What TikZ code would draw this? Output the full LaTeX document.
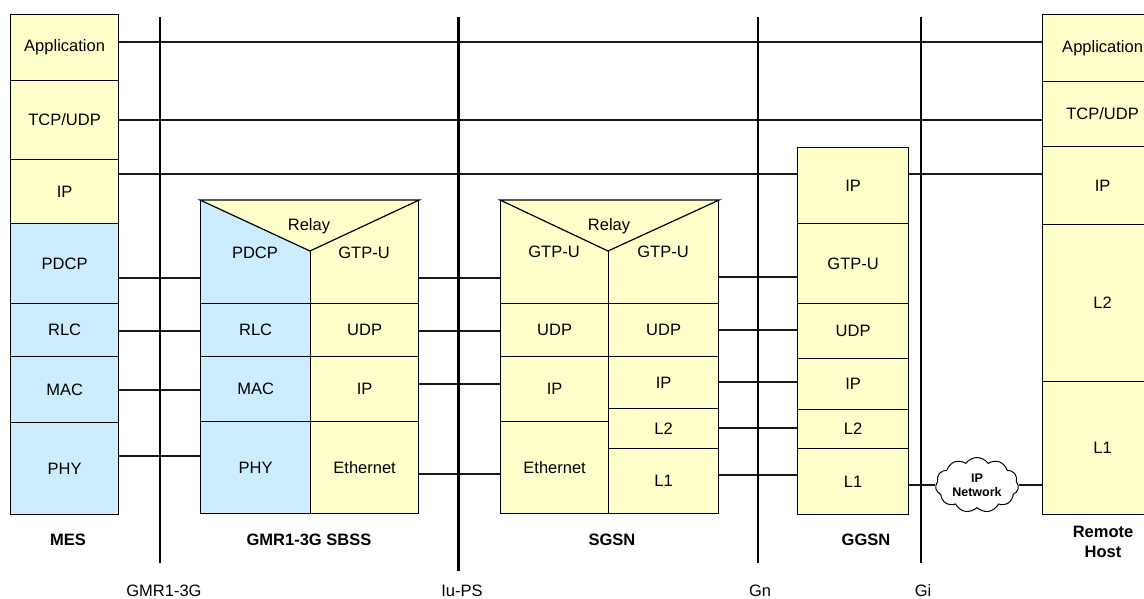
\documentclass[tikz,border=0pt]{standalone}
\usepackage{fontspec}
\setmainfont{Liberation Sans}
\usetikzlibrary{shapes.symbols}
\definecolor{ly}{RGB}{255,255,204}
\definecolor{lb}{RGB}{204,236,255}
\newcommand\lcell[7]{\node[cellbox, fill=#6, minimum width={#4-#2}, minimum height={#5-#3}] (#1) at (#2,#3) {#7};}
\begin{document}
\begin{tikzpicture}[x=1pt,y=-1pt,
  cellbox/.style={draw=black, line width=1.2pt, inner sep=0pt, anchor=north west, font=\fontsize{16.5}{19}\selectfont},
  cellfont/.style={inner sep=0pt, font=\fontsize{16.5}{19}\selectfont},
  link/.style={line width=1.4pt, draw=black!90},
  iface/.style={line width=1.5pt},
  ifacethick/.style={line width=3pt},
  lbl/.style={font=\bfseries\fontsize{16.5}{20}\selectfont, align=center},
  ifl/.style={font=\fontsize{16.5}{19}\selectfont}]
\useasboundingbox (0,0) rectangle (1144,599);
\fill[white] (0,0) rectangle (1144,599);

% ---------- MES ----------
\lcell{mesApp}{10}{14}{118}{80}{ly}{Application}
\lcell{mesTcp}{10}{80}{118}{159}{ly}{TCP/UDP}
\lcell{mesIp}{10}{159}{118}{223}{ly}{IP}
\lcell{mesPdcp}{10}{223}{118}{303}{lb}{PDCP}
\lcell{mesRlc}{10}{303}{118}{356}{lb}{RLC}
\lcell{mesMac}{10}{356}{118}{422}{lb}{MAC}
\lcell{mesPhy}{10}{422}{118}{514}{lb}{PHY}

% ---------- GMR1-3G SBSS ----------
\lcell{sbssPdcp}{200}{200}{310}{303}{lb}{}
\lcell{sbssGtp}{310}{200}{418}{303}{ly}{}
\lcell{sbssRlc}{200}{303}{310}{356}{lb}{RLC}
\lcell{sbssUdp}{310}{303}{418}{356}{ly}{UDP}
\lcell{sbssMac}{200}{356}{310}{421}{lb}{MAC}
\lcell{sbssIp}{310}{356}{418}{421}{ly}{IP}
\lcell{sbssPhy}{200}{421}{310}{513}{lb}{PHY}
\lcell{sbssEth}{310}{421}{418}{513}{ly}{Ethernet}
\coordinate (sbssApex) at (310,251);
\fill[ly] (sbssPdcp.north west) -- (sbssGtp.north east) -- (sbssApex) -- cycle;
\draw[line width=1.2pt, line join=miter] (sbssPdcp.north west) -- (sbssGtp.north east) -- (sbssApex) -- cycle;
\node[cellfont] (sbssRelay) at (309,226) {Relay};
\node[cellfont] (sbssPdcpTxt) at (255,253) {PDCP};
\node[cellfont] (sbssGtpTxt) at (364,253) {GTP-U};

% ---------- SGSN ----------
\lcell{sgsnGtpL}{500}{200}{608}{303}{ly}{}
\lcell{sgsnGtpR}{608}{200}{718}{303}{ly}{}
\lcell{sgsnUdpL}{500}{303}{608}{356}{ly}{UDP}
\lcell{sgsnUdpR}{608}{303}{718}{356}{ly}{UDP}
\lcell{sgsnIpL}{500}{356}{608}{421}{ly}{IP}
\lcell{sgsnEth}{500}{421}{608}{513}{ly}{Ethernet}
\lcell{sgsnIpR}{608}{356}{718}{408}{ly}{IP}
\lcell{sgsnL2}{608}{408}{718}{448}{ly}{L2}
\lcell{sgsnL1}{608}{448}{718}{513}{ly}{L1}
\coordinate (sgsnApex) at (608,251);
\fill[ly] (sgsnGtpL.north west) -- (sgsnGtpR.north east) -- (sgsnApex) -- cycle;
\draw[line width=1.2pt, line join=miter] (sgsnGtpL.north west) -- (sgsnGtpR.north east) -- (sgsnApex) -- cycle;
\node[cellfont] (sgsnRelay) at (609,226) {Relay};
\node[cellfont] (sgsnGtpLTxt) at (554,252) {GTP-U};
\node[cellfont] (sgsnGtpRTxt) at (663,252) {GTP-U};

% ---------- GGSN ----------
\lcell{ggsnIpTop}{797}{147}{908}{223}{ly}{IP}
\lcell{ggsnGtp}{797}{223}{908}{303}{ly}{GTP-U}
\lcell{ggsnUdp}{797}{303}{908}{358}{ly}{UDP}
\lcell{ggsnIp}{797}{358}{908}{409}{ly}{IP}
\lcell{ggsnL2}{797}{409}{908}{448}{ly}{L2}
\lcell{ggsnL1}{797}{448}{908}{514}{ly}{L1}

% ---------- Remote Host ----------
\lcell{rhApp}{1042}{14}{1162}{81}{ly}{Application}
\lcell{rhTcp}{1042}{81}{1162}{146}{ly}{TCP/UDP}
\lcell{rhIp}{1042}{146}{1162}{224}{ly}{IP}
\lcell{rhL2}{1042}{224}{1162}{381}{ly}{L2}
\lcell{rhL1}{1042}{381}{1162}{514}{ly}{L1}

% ---------- IP network cloud ----------
\node[cloud, cloud puffs=11, cloud puff arc=110, aspect=1.6, draw, fill=white, line width=1pt,
      minimum width=83, minimum height=55, inner sep=0pt, align=center,
      font=\bfseries\fontsize{12.5}{14}\selectfont] (cloud) at (977,485) {IP\\Network};

% ---------- peer connectors ----------
\draw[link] (mesApp.east |- 0,42) -- (rhApp.west |- 0,42);
\draw[link] (mesTcp.east |- 0,120) -- (rhTcp.west |- 0,120);
\draw[link] (mesIp.east |- 0,174) -- (ggsnIpTop.west |- 0,174);
\draw[link] (ggsnIpTop.east |- 0,174) -- (rhIp.west |- 0,174);

\draw[link] (mesPdcp.east |- 0,278) -- (sbssPdcp.west |- 0,278);
\draw[link] (mesRlc.east |- 0,331) -- (sbssRlc.west |- 0,331);
\draw[link] (mesMac.east |- 0,390) -- (sbssMac.west |- 0,390);
\draw[link] (mesPhy.east |- 0,456) -- (sbssPhy.west |- 0,456);

\draw[link] (sbssGtp.east |- 0,278) -- (sgsnGtpL.west |- 0,278);
\draw[link] (sbssUdp.east |- 0,331) -- (sgsnUdpL.west |- 0,331);
\draw[link] (sbssIp.east |- 0,384) -- (sgsnIpL.west |- 0,384);
\draw[link] (sbssEth.east |- 0,474) -- (sgsnEth.west |- 0,474);

\draw[link] (sgsnGtpR.east |- 0,277) -- (ggsnGtp.west |- 0,277);
\draw[link] (sgsnUdpR.east |- 0,330) -- (ggsnUdp.west |- 0,330);
\draw[link] (sgsnIpR.east |- 0,382) -- (ggsnIp.west |- 0,382);
\draw[link] (sgsnL2.east |- 0,428) -- (ggsnL2.west |- 0,428);
\draw[link] (sgsnL1.east |- 0,475) -- (ggsnL1.west |- 0,475);

\draw[link] (ggsnL1.east |- cloud.west) -- (cloud.west);
\draw[link] (cloud.east) -- (rhL1.west |- cloud.east);

% ---------- interface lines ----------
\coordinate (gmrTop) at (160,17);  \coordinate (gmrBot) at (160,563);
\coordinate (iuTop) at (458,17);   \coordinate (iuBot) at (458,571);
\coordinate (gnTop) at (758,17);   \coordinate (gnBot) at (758,563);
\coordinate (giTop) at (921,17);   \coordinate (giBot) at (921,563);
\draw[iface] (gmrTop) -- (gmrBot);
\draw[ifacethick] (iuTop) -- (iuBot);
\draw[iface] (gnTop) -- (gnBot);
\draw[iface] (giTop) -- (giBot);

% ---------- labels ----------
\node[lbl] (mesLbl) at (68,540) {MES};
\node[lbl] (sbssLbl) at (309,540) {GMR1-3G SBSS};
\node[lbl] (sgsnLbl) at (612,540) {SGSN};
\node[lbl] (ggsnLbl) at (866,540) {GGSN};
\node[lbl] (rhLbl) at (1103,542) {Remote\\Host};

\node[ifl] (gmrLbl) at (164,591) {GMR1-3G};
\node[ifl] (iuLbl) at (462,591) {Iu-PS};
\node[ifl] (gnLbl) at (760,591) {Gn};
\node[ifl] (giLbl) at (923,591) {Gi};
\end{tikzpicture}
\end{document}
